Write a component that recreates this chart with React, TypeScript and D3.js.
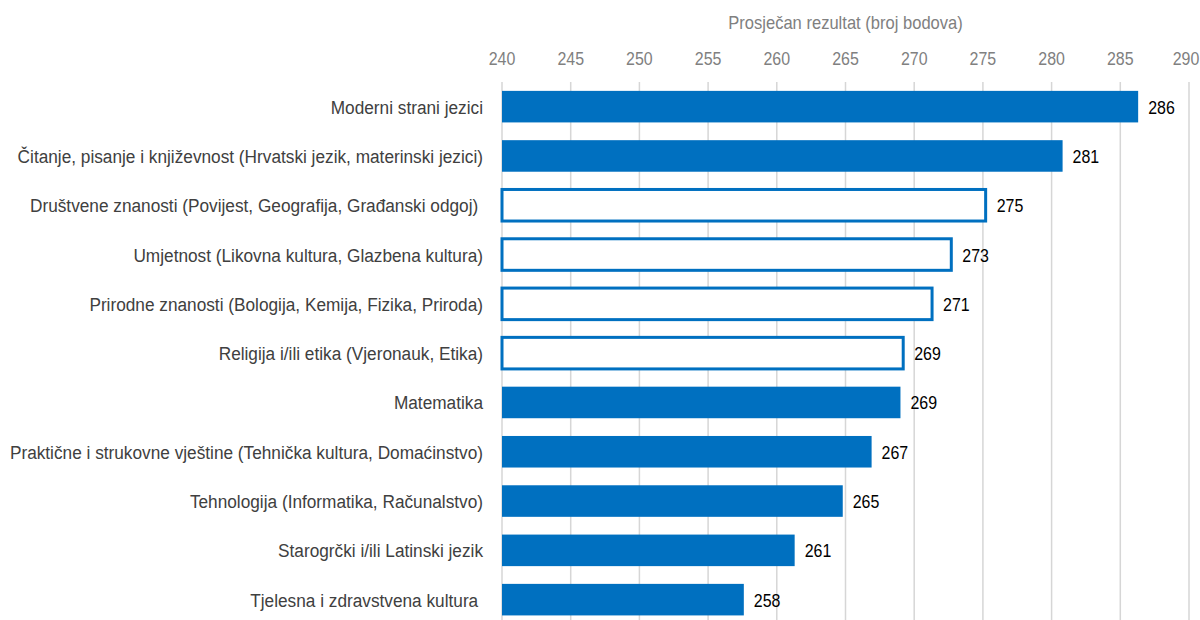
import React from "react";
import * as d3 from "d3";

const categories = [
  "Moderni strani jezici",
  "Čitanje, pisanje i književnost (Hrvatski jezik, materinski jezici)",
  "Društvene znanosti (Povijest, Geografija, Građanski odgoj) ",
  "Umjetnost (Likovna kultura, Glazbena kultura)",
  "Prirodne znanosti (Bologija, Kemija, Fizika, Priroda)",
  "Religija i/ili etika (Vjeronauk, Etika)",
  "Matematika",
  "Praktične i strukovne vještine (Tehnička kultura, Domaćinstvo)",
  "Tehnologija (Informatika, Računalstvo)",
  "Starogrčki i/ili Latinski jezik",
  "Tjelesna i zdravstvena kultura ",
];
const values = [286.3, 280.8, 275.2, 272.7, 271.3, 269.2, 269.0, 266.9, 264.8, 261.3, 257.6];
const outlined = [false, false, true, true, true, true, false, false, false, false, false];
const xTicks = [240, 245, 250, 255, 260, 265, 270, 275, 280, 285, 290];
const axisTitle = "Prosječan rezultat (broj bodova)";

const BLUE = "#0070C0";
const FONT = "'Liberation Sans', Arial, sans-serif";

export default function App() {
  const W = 1200;
  const H = 620;
  const x = d3.scaleLinear().domain([240, 290]).range([502, 1189]);
  const y = d3
    .scaleBand<string>()
    .domain(categories)
    .range([82, 82 + 11 * 49.3])
    .paddingInner(0.36)
    .paddingOuter(0.18);
  const fmt = d3.format(".0f");
  const bw = y.bandwidth();

  return (
    <svg
      width={W}
      height={H}
      style={{ position: "absolute", left: 0, top: 0, background: "#fff" }}
      fontFamily={FONT}
    >
      <rect x={0} y={0} width={W} height={H} fill="#fff" />
      <text
        transform={`translate(${(x(240) + x(290)) / 2},29) scale(0.92,1)`}
        textAnchor="middle"
        fontSize={18}
        fill="#808080"
      >
        {axisTitle}
      </text>
      {xTicks.map((t) => (
        <g key={t}>
          <line x1={x(t)} x2={x(t)} y1={82} y2={H} stroke="#d6d6d6" strokeWidth={1.5} />
          <text
            transform={`translate(${Math.min(x(t), W - 14)},65) scale(0.84,1)`}
            textAnchor="middle"
            fontSize={19}
            fill="#808080"
          >
            {t}
          </text>
        </g>
      ))}
      {categories.map((c, i) => {
        const y0 = y(c)!;
        const cy = y0 + bw / 2;
        const w = x(values[i]) - x(240);
        return (
          <g key={c}>
            {outlined[i] ? (
              <rect
                x={x(240)}
                y={y0}
                width={w}
                height={bw}
                fill="#fff"
                stroke={BLUE}
                strokeWidth={3}
              />
            ) : (
              <rect x={x(240)} y={y0} width={w} height={bw} fill={BLUE} />
            )}
            <text
              transform={`translate(483,${cy + 7}) scale(0.908,1)`}
              textAnchor="end"
              fontSize={19}
              fill="#404040"
              style={{ whiteSpace: "pre" }}
            >
              {c}
            </text>
            <text
              transform={`translate(${x(values[i]) + (outlined[i] ? 11 : 10)},${cy + 7}) scale(0.84,1)`}
              fontSize={19}
              fill="#000"
            >
              {fmt(values[i])}
            </text>
          </g>
        );
      })}
    </svg>
  );
}
